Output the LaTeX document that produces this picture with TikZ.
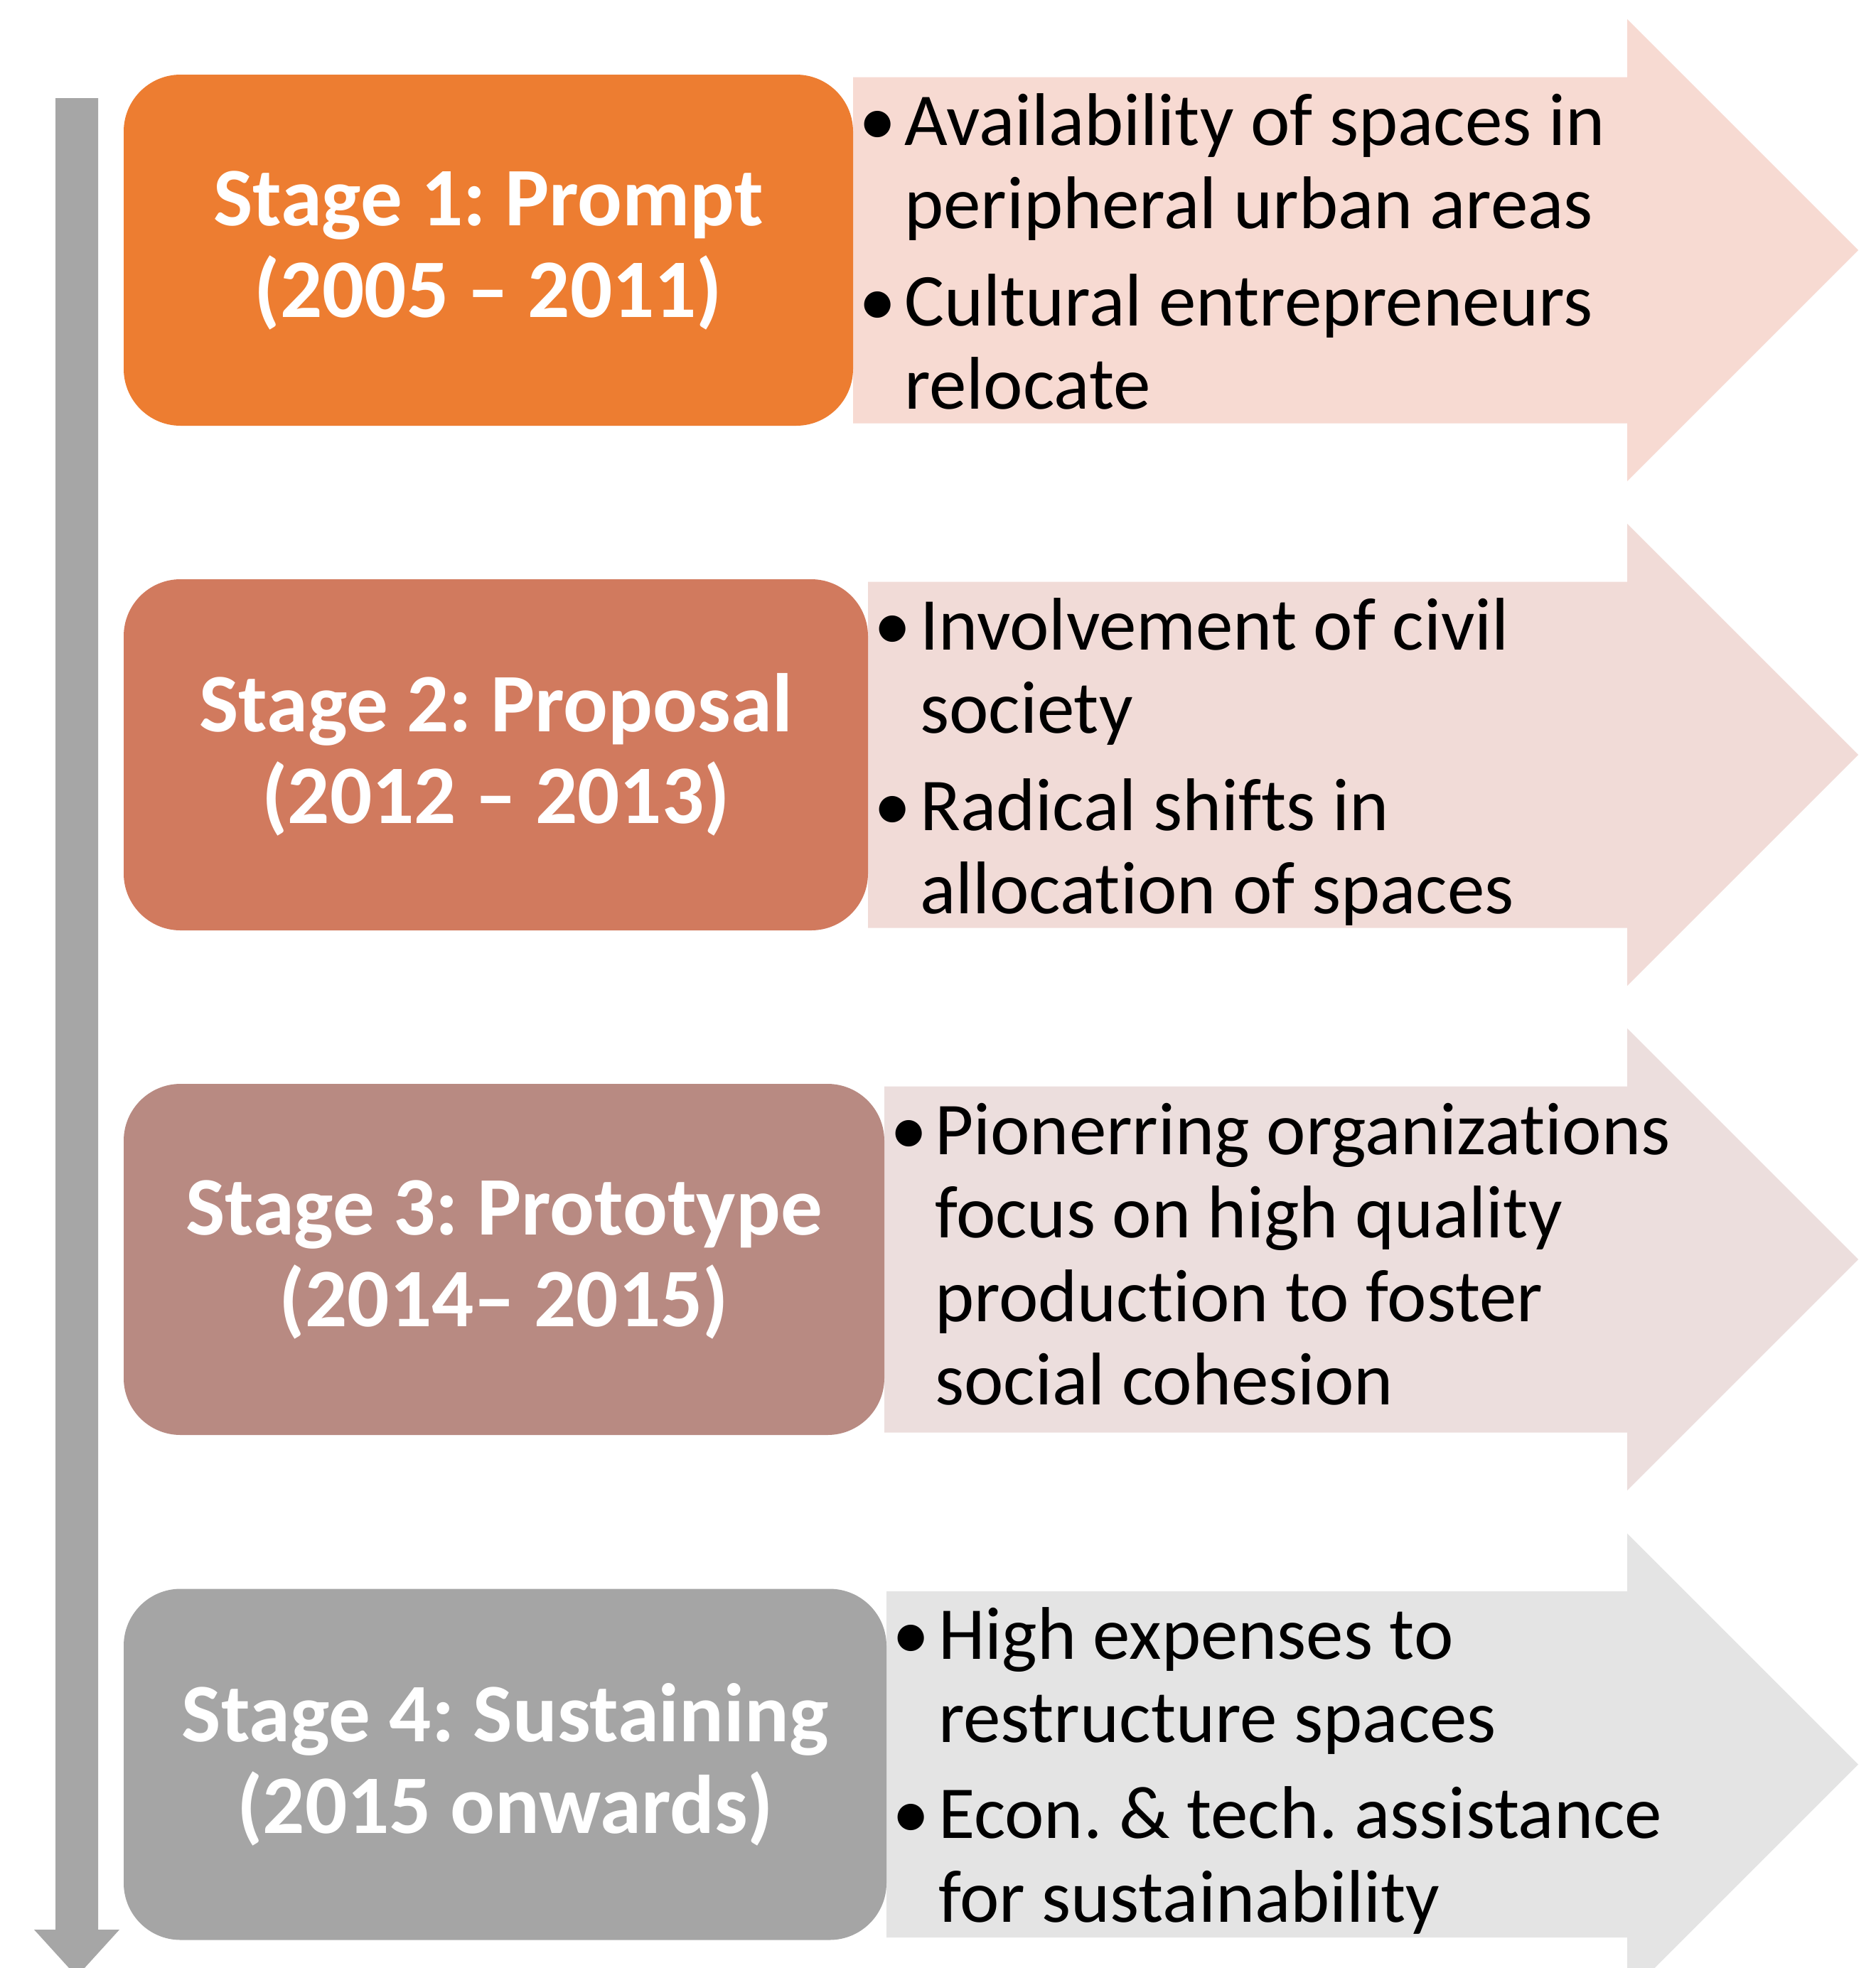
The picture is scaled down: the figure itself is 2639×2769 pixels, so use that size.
\documentclass[tikz,border=0pt]{standalone}
\usepackage{fontspec}
\setmainfont{Carlito}[Ligatures={NoCommon,NoContextual}]
\frenchspacing
\definecolor{boxA}{HTML}{ED7D31}
\definecolor{boxB}{HTML}{D17A5E}
\definecolor{boxC}{HTML}{B88A82}
\definecolor{boxD}{HTML}{A5A5A5}
\definecolor{arrA}{HTML}{F7DAD2}
\definecolor{arrB}{HTML}{F1DBD7}
\definecolor{arrC}{HTML}{ECDEDD}
\definecolor{arrD}{HTML}{E4E4E4}
\definecolor{timeline}{HTML}{A6A6A6}
\newcommand{\stagearrow}[3]{%
  \fill[#3] ({#1},{#2-243.5}) -- (2289,{#2-243.5}) -- (2289,{#2-325}) -- (2614,{#2})
    -- (2289,{#2+325}) -- (2289,{#2+243.5}) -- ({#1},{#2+243.5}) -- cycle;}
\tikzset{
  stagebox/.style={rounded corners=80pt, minimum height=494pt, inner sep=0pt,
    text=white, align=center, font=\fontsize{117}{129}\selectfont\bfseries},
  bul/.style={anchor=base, inner sep=0pt, font=\fontsize{105}{117}\selectfont},
  btxt/.style={anchor=base west, inner sep=0pt, font=\fontsize{105}{117}\selectfont}
}
\begin{document}
\begin{tikzpicture}[x=1pt,y=-1pt]
\useasboundingbox[fill=white] (0,0) rectangle (2639,2769);
% timeline arrow
\fill[timeline] (78,138) -- (138,138) -- (138,2715) -- (168,2715) -- (108,2781) -- (48,2715) -- (78,2715) -- cycle;
% chevron arrows
\stagearrow{1200}{352}{arrA}
\stagearrow{1221}{1062}{arrB}
\stagearrow{1244}{1772}{arrC}
\stagearrow{1247}{2482.5}{arrD}
% stage boxes
\node[stagebox, fill=boxA, minimum width=1026pt] (s1) at (687,352) {Stage 1: Prompt\\(2005 – 2011)};
\node[stagebox, fill=boxB, minimum width=1047pt] (s2) at (697.5,1062) {Stage 2: Proposal\\(2012 – 2013)};
\node[stagebox, fill=boxC, minimum width=1070pt] (s3) at (709,1772) {Stage 3: Prototype\\(2014– 2015)};
\node[stagebox, fill=boxD, minimum width=1073pt] (s4) at (710.5,2482.5) {Stage 4: Sustaining\\(2015 onwards)};
% bullets stage 1
\node[bul] (b1a) at (1235,204) {•};
\node[btxt] (t1a) at (1272,204) {Availability of spaces in};
\node[btxt] (t1b) at (1272,321) {peripheral urban areas};
\node[bul] (b1b) at (1235,458) {•};
\node[btxt] (t1c) at (1272,458) {Cultural entrepreneurs};
\node[btxt] (t1d) at (1272,575) {relocate};
% bullets stage 2
\node[bul] (b2a) at (1256,914) {•};
\node[btxt] (t2a) at (1294,914) {Involvement of civil};
\node[btxt] (t2b) at (1294,1031) {society};
\node[bul] (b2b) at (1256,1168) {•};
\node[btxt] (t2c) at (1294,1168) {Radical shifts in};
\node[btxt] (t2d) at (1294,1285) {allocation of spaces};
% bullets stage 3
\node[bul] (b3a) at (1279,1624) {•};
\node[btxt] (t3a) at (1315,1624) {Pionerring organizations};
\node[btxt] (t3b) at (1315,1741) {focus on high quality};
\node[btxt] (t3c) at (1315,1859) {production to foster};
\node[btxt] (t3d) at (1315,1976) {social cohesion};
% bullets stage 4
\node[bul] (b4a) at (1282,2334) {•};
\node[btxt] (t4a) at (1320,2334) {High expenses to};
\node[btxt] (t4b) at (1320,2451) {restructure spaces};
\node[bul] (b4b) at (1282,2586) {•};
\node[btxt] (t4c) at (1320,2586) {Econ. \& tech. assistance};
\node[btxt] (t4d) at (1320,2704) {for sustainability};
\end{tikzpicture}
\end{document}
